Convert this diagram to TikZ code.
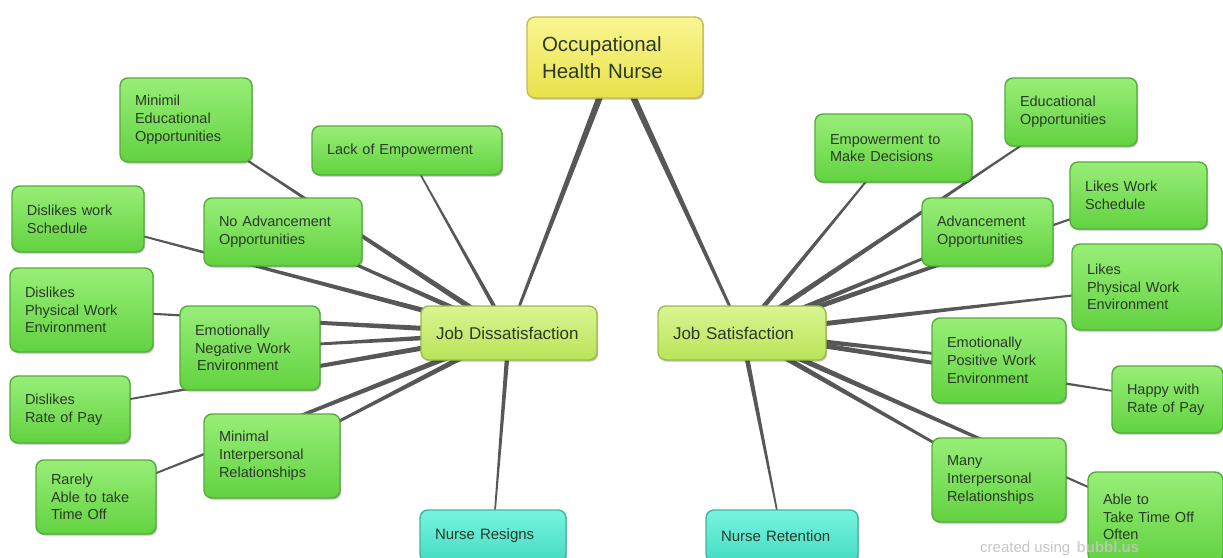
\documentclass[tikz,border=0pt]{standalone}
\usepackage{fontspec}
\setmainfont{Liberation Sans}
\usetikzlibrary{calc,backgrounds,shadows}
\definecolor{gtop}{HTML}{98EE78}
\definecolor{gbot}{HTML}{62D240}
\definecolor{gborder}{HTML}{52AE38}
\definecolor{ytop}{HTML}{FAF692}
\definecolor{ybot}{HTML}{E8E14A}
\definecolor{yborder}{HTML}{C4BC55}
\definecolor{ltop}{HTML}{DAF492}
\definecolor{lbot}{HTML}{B9E457}
\definecolor{lborder}{HTML}{96BE4A}
\definecolor{ttop}{HTML}{78F4DF}
\definecolor{tbot}{HTML}{44DBC2}
\definecolor{tborder}{HTML}{3CB7A3}
\definecolor{txt}{HTML}{2B3A28}
\definecolor{linec}{HTML}{575757}
\definecolor{wm}{HTML}{C6C6C6}
\tikzset{
  box/.style={rounded corners=8pt, line width=1.4pt, inner xsep=15pt, inner ysep=2pt,
    align=left, text=txt,
    drop shadow={shadow xshift=1.2pt, shadow yshift=-1.6pt, opacity=0.25, fill=black}},
  gbox/.style={box, draw=gborder, top color=gtop, bottom color=gbot,
    font=\fontsize{14.5}{17.8}\selectfont},
  ybox/.style={box, draw=yborder, top color=ytop, bottom color=ybot,
    font=\fontsize{20.5}{27}\selectfont},
  lbox/.style={box, draw=lborder, top color=ltop, bottom color=lbot,
    font=\fontsize{17}{20}\selectfont},
  tbox/.style={box, draw=tborder, top color=ttop, bottom color=tbot,
    font=\fontsize{15}{18}\selectfont},
  sz/.code 2 args={\pgfmathsetmacro\boxtw{#1-30}%
    \edef\boxtmp{\noexpand\tikzset{text width=\boxtw pt, minimum height=#2pt}}\boxtmp}
}
\newcommand\conn[4]{%
  \fill[linec] ($(#1)!#3!90:(#2)$) -- ($(#2)!#4!-90:(#1)$) --
    ($(#2)!#4!90:(#1)$) -- ($(#1)!#3!-90:(#2)$) -- cycle;}
\begin{document}
\begin{tikzpicture}[x=1pt,y=-1pt]
\useasboundingbox (0,0) rectangle (1223,557);
% central nodes
\node[ybox, sz={176}{81}] (occ) at (615,57.5) {Occupational\\Health Nurse};
\node[lbox, sz={176}{54}] (jd) at (509,333) {Job Dissatisfaction};
\node[lbox, sz={168}{54}] (js) at (742,333) {Job Satisfaction};
\node[tbox, sz={146}{52}] (resigns) at (493,536) {Nurse Resigns};
\node[tbox, sz={152}{52}] (retention) at (782,536) {Nurse Retention};
% left side
\node[gbox, sz={132}{84}] (minimil) at (186,120) {Minimil\\Educational\\Opportunities};
\node[gbox, sz={190}{49}] (lackemp) at (407,150.5) {Lack of Empowerment};
\node[gbox, sz={132}{66}] (dwsched) at (78,219) {Dislikes work\\Schedule};
\node[gbox, sz={158}{68}] (noadv) at (283,232) {No Advancement\\Opportunities};
\node[gbox, sz={143}{84}] (dphys) at (81.5,310) {Dislikes\\Physical Work\\Environment};
\node[gbox, sz={140}{84}] (emneg) at (250,348) {Emotionally\\Negative Work\\\hspace*{2pt}Environment};
\node[gbox, sz={120}{67}] (drate) at (70,409.5) {Dislikes\\Rate of Pay};
\node[gbox, sz={136}{84}] (minint) at (272,456) {Minimal\\Interpersonal\\Relationships};
\node[gbox, sz={120}{74}] (rarely) at (96,497) {Rarely\\Able to take\\Time Off};
% right side
\node[gbox, sz={157}{68}] (empdec) at (893.5,148) {Empowerment to\\Make Decisions};
\node[gbox, sz={132}{68}] (edu) at (1071,112) {Educational\\Opportunities};
\node[gbox, sz={137}{67}] (lsched) at (1138.5,195.5) {Likes Work\\Schedule};
\node[gbox, sz={131}{68}] (adv) at (987.5,232) {Advancement\\Opportunities};
\node[gbox, sz={150}{86}] (lphys) at (1147,287) {Likes\\Physical Work\\Environment};
\node[gbox, sz={134}{85}] (empos) at (999,360.5) {Emotionally\\Positive Work\\Environment};
\node[gbox, sz={111}{67}] (happy) at (1167.5,399.5) {Happy with\\Rate of Pay};
\node[gbox, sz={134}{84}] (many) at (999,480) {Many\\Interpersonal\\Relationships};
\node[gbox, sz={135}{90}] (able) at (1155.5,517) {Able to\\Take Time Off\\Often};
% watermark
\node[anchor=base west, inner sep=0pt, text=wm, font=\fontsize{15}{18}\selectfont] (wmtext) at (980,552) {created using};
\node[anchor=base west, inner sep=0pt, text=wm, opacity=0.8, font=\bfseries\fontsize{15}{18}\selectfont] (wmlogo) at ([xshift=6pt]wmtext.base east) {bubbl.us};
% connectors
\begin{pgfonlayer}{background}
\conn{occ}{jd}{3.5pt}{1.2pt}
\conn{occ}{js}{3.5pt}{1.2pt}
\conn{jd}{lackemp}{2.2pt}{0.6pt}
\conn{jd}{resigns}{2.4pt}{0.6pt}
\conn{jd}{minimil}{3pt}{0.6pt}
\conn{jd}{dwsched}{3pt}{0.6pt}
\conn{jd}{noadv}{3pt}{0.8pt}
\conn{jd}{dphys}{3pt}{0.6pt}
\conn{jd}{emneg}{3pt}{0.8pt}
\conn{jd}{drate}{3pt}{0.6pt}
\conn{jd}{minint}{3pt}{0.8pt}
\conn{jd}{rarely}{3pt}{0.6pt}
\conn{js}{retention}{2.6pt}{0.6pt}
\conn{js}{empdec}{2.6pt}{0.6pt}
\conn{js}{edu}{3pt}{0.6pt}
\conn{js}{adv}{3pt}{0.8pt}
\conn{js}{lsched}{3pt}{0.6pt}
\conn{js}{lphys}{3pt}{0.6pt}
\conn{js}{empos}{3pt}{0.8pt}
\conn{js}{happy}{3pt}{0.6pt}
\conn{js}{many}{3pt}{0.8pt}
\conn{js}{able}{3pt}{0.6pt}
\end{pgfonlayer}
\end{tikzpicture}
\end{document}
